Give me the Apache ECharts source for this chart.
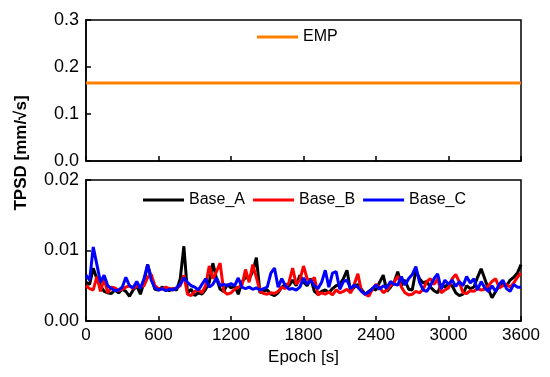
<!DOCTYPE html>
<html><head><meta charset="utf-8">
<script src="https://cdn.jsdelivr.net/npm/echarts@6/dist/echarts.min.js"></script>
<style>html,body{margin:0;padding:0;background:#fff}#c{width:550px;height:377px}</style>
</head><body><div id="c"></div>
<script>
// Epoch [s], every 30 s
const epochs = [];
for (let i = 0; i <= 120; i++) epochs.push(i * 30);
const xTicks = [0, 600, 1200, 1800, 2400, 3000, 3600];
const topTicks = [0.0, 0.1, 0.2, 0.3];
const bottomTicks = [0.00, 0.01, 0.02];

const empValues = [[0, 0.166], [3600, 0.166]];

const baseA = [0.0055,0.0052,0.0075,0.0060,0.0050,0.0042,0.0040,0.0039,0.0044,0.0040,0.0045,0.0042,0.0035,0.0044,0.0050,0.0038,0.0055,0.0080,0.0062,0.0045,
0.0044,0.0048,0.0045,0.0043,0.0046,0.0044,0.0060,0.0106,0.0040,0.0045,0.0036,0.0040,0.0038,0.0045,0.0055,0.0082,0.0060,0.0045,0.0042,0.0052,
0.0047,0.0050,0.0038,0.0055,0.0062,0.0060,0.0070,0.0090,0.0040,0.0043,0.0044,0.0038,0.0036,0.0040,0.0048,0.0052,0.0050,0.0058,0.0050,0.0065,
0.0055,0.0050,0.0060,0.0042,0.0038,0.0042,0.0044,0.0040,0.0046,0.0050,0.0052,0.0060,0.0072,0.0042,0.0048,0.0052,0.0045,0.0038,0.0042,0.0046,
0.0044,0.0055,0.0065,0.0042,0.0048,0.0055,0.0070,0.0050,0.0058,0.0045,0.0044,0.0072,0.0060,0.0054,0.0056,0.0048,0.0043,0.0040,0.0052,0.0048,
0.0053,0.0050,0.0040,0.0036,0.0038,0.0050,0.0046,0.0048,0.0062,0.0074,0.0060,0.0045,0.0033,0.0042,0.0050,0.0054,0.0050,0.0058,0.0062,0.0068,0.0080];

const baseB = [0.0050,0.0046,0.0044,0.0063,0.0042,0.0060,0.0040,0.0048,0.0047,0.0043,0.0045,0.0048,0.0050,0.0046,0.0050,0.0048,0.0050,0.0062,0.0066,0.0050,
0.0046,0.0045,0.0048,0.0046,0.0045,0.0047,0.0050,0.0065,0.0038,0.0036,0.0042,0.0044,0.0040,0.0050,0.0078,0.0060,0.0070,0.0082,0.0042,0.0038,
0.0040,0.0045,0.0048,0.0050,0.0073,0.0055,0.0080,0.0062,0.0042,0.0039,0.0038,0.0040,0.0039,0.0042,0.0048,0.0046,0.0055,0.0075,0.0052,0.0058,
0.0078,0.0060,0.0055,0.0062,0.0037,0.0040,0.0038,0.0041,0.0037,0.0044,0.0040,0.0042,0.0045,0.0040,0.0052,0.0067,0.0042,0.0038,0.0035,0.0045,
0.0052,0.0048,0.0040,0.0044,0.0050,0.0055,0.0064,0.0048,0.0040,0.0037,0.0038,0.0042,0.0040,0.0045,0.0056,0.0060,0.0052,0.0060,0.0040,0.0044,
0.0047,0.0060,0.0066,0.0055,0.0040,0.0039,0.0043,0.0042,0.0046,0.0044,0.0045,0.0050,0.0056,0.0060,0.0047,0.0050,0.0052,0.0048,0.0054,0.0062,0.0068];

const baseC = [0.0065,0.0058,0.0105,0.0080,0.0055,0.0065,0.0050,0.0046,0.0043,0.0044,0.0048,0.0062,0.0050,0.0047,0.0056,0.0046,0.0060,0.0080,0.0058,0.0047,
0.0044,0.0046,0.0043,0.0045,0.0044,0.0047,0.0052,0.0061,0.0055,0.0050,0.0048,0.0044,0.0052,0.0060,0.0048,0.0052,0.0061,0.0050,0.0052,0.0050,
0.0053,0.0050,0.0061,0.0048,0.0046,0.0048,0.0045,0.0047,0.0044,0.0046,0.0048,0.0068,0.0075,0.0048,0.0060,0.0050,0.0045,0.0046,0.0044,0.0048,
0.0061,0.0052,0.0058,0.0050,0.0046,0.0055,0.0072,0.0048,0.0068,0.0070,0.0045,0.0056,0.0058,0.0046,0.0051,0.0048,0.0042,0.0038,0.0041,0.0046,
0.0051,0.0045,0.0050,0.0047,0.0056,0.0052,0.0051,0.0063,0.0051,0.0060,0.0066,0.0077,0.0055,0.0044,0.0042,0.0050,0.0060,0.0067,0.0045,0.0058,
0.0052,0.0058,0.0049,0.0056,0.0050,0.0063,0.0054,0.0060,0.0044,0.0056,0.0047,0.0042,0.0050,0.0042,0.0052,0.0058,0.0046,0.0042,0.0052,0.0048,0.0048];

const pair = (arr) => arr.map((v, i) => [epochs[i], v]);
const FONT = '"Liberation Sans", Arial, sans-serif';
const axisLineStyle = { color: '#000', width: 1.5 };

const chart = echarts.init(document.getElementById('c'), null, { renderer: 'canvas' });
chart.setOption({
  animation: false,
  textStyle: { fontFamily: FONT },
  grid: [
    { left: 86, top: 20, width: 435, height: 141, show: true, borderColor: '#000', borderWidth: 1.5 },
    { left: 86, top: 180, width: 435, height: 141, show: true, borderColor: '#000', borderWidth: 1.5 }
  ],
  xAxis: [
    { type: 'value', gridIndex: 0, min: 0, max: 3600, interval: 600,
      axisLine: { lineStyle: axisLineStyle }, axisTick: { inside: true, length: 5, lineStyle: axisLineStyle },
      axisLabel: { show: false }, splitLine: { show: false } },
    { type: 'value', gridIndex: 1, min: 0, max: 3600, interval: 600,
      axisLine: { lineStyle: axisLineStyle }, axisTick: { inside: true, length: 5, lineStyle: axisLineStyle },
      axisLabel: { color: '#000', fontSize: 17, margin: 6, fontFamily: FONT,
        formatter: v => xTicks.includes(v) ? String(v) : '' },
      splitLine: { show: false },
      name: 'Epoch [s]', nameLocation: 'middle', nameGap: 28,
      nameTextStyle: { color: '#000', fontSize: 17, fontFamily: FONT } }
  ],
  yAxis: [
    { type: 'value', gridIndex: 0, min: 0, max: 0.3, interval: 0.1,
      axisLine: { lineStyle: axisLineStyle }, axisTick: { inside: true, length: 5, lineStyle: axisLineStyle },
      axisLabel: { color: '#000', fontSize: 18, margin: 7, fontFamily: FONT,
        formatter: v => topTicks.find(t => Math.abs(t - v) < 1e-9).toFixed(1) },
      splitLine: { show: false } },
    { type: 'value', gridIndex: 1, min: 0, max: 0.02, interval: 0.01,
      axisLine: { lineStyle: axisLineStyle }, axisTick: { inside: true, length: 5, lineStyle: axisLineStyle },
      axisLabel: { color: '#000', fontSize: 18, margin: 7, fontFamily: FONT,
        formatter: v => bottomTicks.find(t => Math.abs(t - v) < 1e-9).toFixed(2) },
      splitLine: { show: false } }
  ],
  legend: [
    { data: ['EMP'], left: 252, top: 24, itemWidth: 41, itemHeight: 14, itemGap: 10,
      icon: 'path://M0,0 L41,0 L41,3 L0,3 Z',
      textStyle: { color: '#000', fontSize: 16, fontFamily: FONT } },
    { data: ['Base_A', 'Base_B', 'Base_C'], left: 138, top: 187, itemWidth: 41, itemHeight: 14, itemGap: 8,
      icon: 'path://M0,0 L41,0 L41,3 L0,3 Z',
      textStyle: { color: '#000', fontSize: 16, fontFamily: FONT } }
  ],
  graphic: [
    { type: 'text', x: 21, y: 153, rotation: Math.PI / 2,
      style: { text: 'TPSD [mm/√s]', fill: '#000', fontSize: 17, fontWeight: 'bold', fontFamily: FONT,
        textAlign: 'center', textVerticalAlign: 'middle' } }
  ],
  series: [
    { name: 'EMP', type: 'line', xAxisIndex: 0, yAxisIndex: 0, data: empValues, showSymbol: false,
      lineStyle: { color: '#ff8000', width: 3 }, itemStyle: { color: '#ff8000' } },
    { name: 'Base_A', type: 'line', xAxisIndex: 1, yAxisIndex: 1, data: pair(baseA), showSymbol: false,
      lineStyle: { color: '#000', width: 3 }, itemStyle: { color: '#000' } },
    { name: 'Base_B', type: 'line', xAxisIndex: 1, yAxisIndex: 1, data: pair(baseB), showSymbol: false,
      lineStyle: { color: '#ff0000', width: 3 }, itemStyle: { color: '#ff0000' } },
    { name: 'Base_C', type: 'line', xAxisIndex: 1, yAxisIndex: 1, data: pair(baseC), showSymbol: false,
      lineStyle: { color: '#0000ff', width: 3 }, itemStyle: { color: '#0000ff' } }
  ]
});
</script></body></html>
